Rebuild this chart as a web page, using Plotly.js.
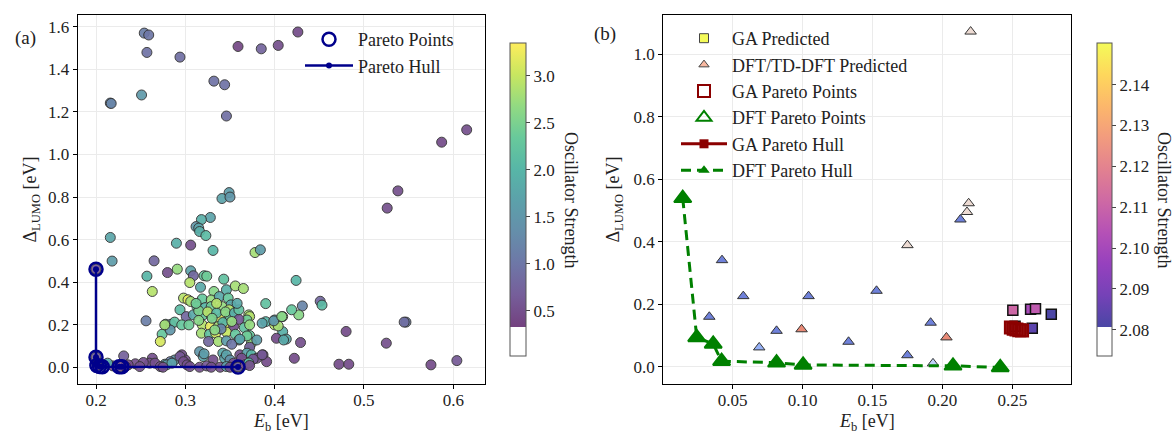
<!DOCTYPE html>
<html><head><meta charset="utf-8">
<script src="https://cdn.plot.ly/plotly-3.0.1.min.js"></script>
<style>html,body{margin:0;padding:0;background:#fff}#chart{width:1174px;height:433px}</style>
</head><body><div id="chart"></div>
<script>
// ---------- Panel (a): all candidates ----------
const aX = [0.216,0.217,0.251,0.254,0.259,0.257,0.294,0.332,0.344,0.346,0.359,0.385,0.404,0.426,0.587,0.615,0.538,0.526,
0.349,0.341,0.350,0.328,0.318,0.312,0.315,0.316,0.323,0.290,0.306,0.331,0.378,0.384,0.216,0.218,0.265,
0.424,0.451,0.453,0.431,0.427,0.419,0.409,0.400,0.409,0.413,0.429,0.422,0.472,0.483,0.480,0.525,0.547,0.545,0.575,0.604,0.400,0.404,0.402,0.410,
0.257,0.263,0.256,0.280,0.291,0.306,0.309,0.305,0.321,0.324,0.317,0.343,0.346,0.356,0.365,0.332,0.390,
0.298,0.303,0.306,0.319,0.329,0.338,0.348,0.351,0.313,0.322,0.329,0.341,0.349,0.294,0.301,0.309,0.320,0.329,0.344,0.339,0.350,0.371,0.372,0.369,0.390,0.386,0.399,0.408,
0.278,0.284,0.288,0.296,0.304,0.319,0.328,0.337,0.346,0.354,0.366,0.372,0.274,0.283,0.272,0.277,0.318,0.327,0.334,0.346,0.356,0.360,0.372,0.374,0.326,0.337,0.346,0.352,0.369,0.380,0.361,0.372,
0.315,0.325,0.335,0.345,0.355,0.330,0.360,0.342,0.352,0.315,0.360,0.335,0.358,0.312,0.340,0.333,
0.316,0.320,0.342,0.344,0.331,0.361,0.369,0.374,0.380,0.387,0.391,0.296,0.300,0.288,0.283,0.277,0.263,0.260,0.231,0.244,0.236,0.219,0.253,0.266,0.279,0.285,0.294,0.298,0.321,0.346,0.350,0.354,0.363,0.376,0.386,0.339,0.346,0.350,0.356,0.361,0.316,0.324,0.329,0.302,0.305,0.249,0.272,0.275,0.233,0.203,0.213,0.208,0.200,0.200,0.201,0.227,0.359,0.367,0.371,0.372];
const aY = [1.242,1.240,1.280,1.571,1.562,1.480,1.458,1.345,1.328,1.181,1.508,1.497,1.513,1.576,1.058,1.116,0.829,0.748,
0.821,0.793,0.800,0.704,0.694,0.661,0.654,0.638,0.619,0.583,0.574,0.549,0.539,0.552,0.610,0.499,0.500,
0.408,0.310,0.292,0.288,0.246,0.270,0.238,0.199,0.167,0.132,0.116,0.042,0.014,0.014,0.168,0.113,0.212,0.212,0.011,0.031,0.222,0.194,0.136,0.128,
0.428,0.356,0.218,0.445,0.461,0.453,0.430,0.398,0.430,0.428,0.376,0.414,0.364,0.382,0.370,0.356,0.299,
0.325,0.317,0.309,0.321,0.316,0.332,0.325,0.293,0.285,0.280,0.285,0.285,0.270,0.270,0.238,0.246,0.246,0.243,0.246,0.227,0.238,0.246,0.238,0.222,0.214,0.207,0.218,0.238,
0.202,0.202,0.212,0.199,0.199,0.199,0.191,0.191,0.199,0.191,0.186,0.199,0.155,0.175,0.121,0.199,0.160,0.155,0.160,0.165,0.155,0.128,0.149,0.113,0.121,0.121,0.124,0.108,0.147,0.128,0.132,0.094,
0.265,0.260,0.255,0.260,0.255,0.230,0.225,0.210,0.215,0.220,0.270,0.300,0.300,0.300,0.180,0.175,
0.073,0.050,0.066,0.042,0.034,0.058,0.066,0.058,0.042,0.058,0.026,0.058,0.034,0.034,0.026,0.014,0.042,0.019,0.053,0.016,0.011,0.006,0.022,0.019,0.011,0.019,0.050,0.026,0.063,0.058,0.034,0.019,0.042,0.038,0.058,0.000,0.003,0.000,0.000,0.006,0.000,0.006,0.000,0.011,0.003,0.003,0.003,0.000,0.003,0.022,0.019,0.010,0.461,0.047,0.008,0.003,0.001,0.012,0.020,0.008];
const aOsc = [1.3,1.2,1.55,1.1,1.0,0.95,0.9,0.95,0.95,0.9,0.4,0.75,0.5,0.45,0.45,0.5,0.5,0.5,
1.6,1.7,1.5,1.7,1.9,1.5,1.7,1.9,2.1,1.9,0.5,2.0,2.8,1.6,1.75,1.6,0.8,
2.0,0.8,2.1,1.2,2.6,2.3,2.7,2.9,1.9,1.8,0.5,0.45,0.45,0.45,0.45,0.5,1.1,0.9,0.45,0.6,1.9,2.8,0.45,1.8,
2.0,2.9,1.1,0.5,2.7,1.7,0.8,2.9,2.3,2.4,1.8,2.2,1.9,2.8,2.8,2.6,2.2,
2.9,3.2,2.8,2.3,2.7,1.8,2.3,1.8,2.3,2.0,2.4,2.7,2.9,2.1,0.8,1.8,2.3,2.8,3.3,3.2,2.2,2.8,2.9,2.4,2.0,1.7,1.5,2.6,
1.6,1.4,2.2,2.3,2.4,2.9,3.2,2.8,3.2,0.5,2.2,2.7,2.3,1.5,3.1,2.8,2.8,2.2,3.1,3.0,2.3,1.7,2.3,2.7,0.8,2.8,1.6,1.0,2.4,1.6,1.7,0.7,
2.5,2.9,2.1,2.6,1.9,2.5,0.6,2.0,2.7,2.6,2.2,2.9,1.8,2.4,1.2,2.6,
1.5,1.7,1.8,1.7,0.5,0.5,1.7,2.0,0.5,0.5,0.45,0.5,0.5,1.5,1.1,1.6,0.5,0.5,0.7,0.5,0.45,0.5,0.5,0.5,1.6,1.7,0.6,0.5,1.6,1.7,1.4,0.5,0.5,0.6,0.6,0.5,1.6,0.5,0.6,0.5,0.5,0.6,0.5,0.5,0.5,0.5,0.5,0.5,0.5,2.0,1.8,1.7,0.6,0.7,0.5,0.5,0.8,0.5,2.1,0.5];
const aParetoX = [0.200,0.200,0.201,0.204,0.207,0.226,0.229,0.359];
const aParetoY = [0.461,0.047,0.008,0.003,0.002,0.002,0.002,0.001];
const aHullX = [0.200,0.200,0.201,0.204,0.207,0.226,0.229,0.359];
const aHullY = [0.461,0.047,0.008,0.003,0.002,0.002,0.002,0.001];

// ---------- Panel (b) ----------
const gaX = [0.2504,0.2631,0.2666,0.2779,0.2643,0.2520];
const gaY = [0.181,0.184,0.186,0.168,0.123,0.130];
const gaOsc = [2.111,2.101,2.107,2.081,2.084,2.115];
const dftX = [0.0424,0.0576,0.0333,0.0690,0.0814,0.0993,0.1043,0.1329,0.1529,0.1750,0.1916,0.1750,0.1933,0.2029,0.2129,0.2176,0.2188,0.2202];
const dftY = [0.341,0.226,0.160,0.062,0.115,0.120,0.226,0.080,0.243,0.389,0.141,0.037,0.011,0.094,0.471,0.495,0.523,1.072];
const dftScore = [0.05,0.05,0.05,0.2,0.05,0.85,0.05,0.05,0.05,0.55,0.05,0.05,0.35,0.85,0.05,0.55,0.55,0.55];
const gaParetoX = [0.249,0.251,0.253,0.255,0.257];
const gaParetoY = [0.126,0.122,0.119,0.117,0.116];
const gaHullX = [0.249,0.251,0.253,0.255,0.257];
const gaHullY = [0.126,0.122,0.119,0.117,0.116];
const dftParetoX = [0.0143,0.0243,0.0361,0.0421,0.0814,0.1004,0.2076,0.2414];
const dftParetoY = [0.539,0.094,0.073,0.018,0.013,0.006,0.003,-0.002];
const dftHullX = [0.0143,0.0243,0.0361,0.0421,0.0814,0.1004,0.2076,0.2414];
const dftHullY = [0.539,0.094,0.073,0.018,0.013,0.006,0.003,-0.002];

// colour scales
function blend(hex, a){
  const r=parseInt(hex.slice(1,3),16), g=parseInt(hex.slice(3,5),16), b=parseInt(hex.slice(5,7),16);
  const f=v=>Math.round(a*v+(1-a)*255);
  return 'rgb('+f(r)+','+f(g)+','+f(b)+')';
}
const viridis=['#440154','#482878','#3e4a89','#31688e','#26828e','#1f9e89','#35b779','#6ece58','#b5de2b','#fde725'];
const plasma=['#0d0887','#47039f','#7301a8','#9c179e','#bd3786','#d8576b','#ed7953','#fb9f3a','#fdca26','#f0f921'];
const coolwarm=['#3b4cc0','#688aef','#99baff','#c9d8ef','#edd1c2','#f7a889','#e26952','#b40426'];
function cutScale(stops,cmin,cmax,cut,alpha){
  const f=(cut-cmin)/(cmax-cmin);
  const out=[[0,'rgb(255,255,255)'],[f,'rgb(255,255,255)']];
  stops.forEach((c,i)=>out.push([Math.min(1,f+1e-6+(1-f-1e-6)*i/(stops.length-1)),blend(c,alpha)]));
  return out;
}
function plainScale(stops,alpha){return stops.map((c,i)=>[i/(stops.length-1),blend(c,alpha)]);}

const FONT='Liberation Serif, Times New Roman, serif';
const NAVY='#00008b', DRED='#8b0000', GREEN='#008000';
const aCmin=0.017,aCmax=3.35,bCmin=2.0736,bCmax=2.1502;

const traces=[
 {x:aX,y:aY,type:'scatter',mode:'markers',xaxis:'x',yaxis:'y',showlegend:false,hoverinfo:'x+y',
  marker:{size:10,color:aOsc,cmin:aCmin,cmax:aCmax,colorscale:cutScale(viridis,aCmin,aCmax,0.33,0.75),opacity:0.92,
   line:{color:'#333',width:1},showscale:true,
   colorbar:{x:510/1174,xanchor:'left',xref:'paper',y:1-43/433,yanchor:'top',yref:'paper',len:312.7,lenmode:'pixels',
    thickness:16,thicknessmode:'pixels',xpad:0,ypad:0,outlinewidth:1,outlinecolor:'#555',ticks:'outside',ticklen:4,
    tickvals:[0.5,1.0,1.5,2.0,2.5,3.0],tickformat:'.1f',tickfont:{family:FONT,size:17,color:'#222'}}}},
 {x:aHullX,y:aHullY,type:'scatter',mode:'lines+markers',name:'Pareto Hull',xaxis:'x',yaxis:'y',legend:'legend',legendrank:2,
  line:{color:NAVY,width:2.5},marker:{color:NAVY,size:6}},
 {x:aParetoX,y:aParetoY,type:'scatter',mode:'markers',name:'Pareto Points',xaxis:'x',yaxis:'y',legend:'legend',legendrank:1,
  marker:{symbol:'circle-open',color:NAVY,size:13,line:{width:2.5}}},

 {x:gaX,y:gaY,type:'scatter',mode:'markers',xaxis:'x2',yaxis:'y2',showlegend:false,
  marker:{symbol:'square',size:10,color:gaOsc,cmin:bCmin,cmax:bCmax,colorscale:cutScale(plasma,bCmin,bCmax,2.0807,0.75),
   line:{color:'#111',width:1.5},showscale:true,
   colorbar:{x:1096.7/1174,xanchor:'left',xref:'paper',y:1-43/433,yanchor:'top',yref:'paper',len:312.7,lenmode:'pixels',
    thickness:15,thicknessmode:'pixels',xpad:0,ypad:0,outlinewidth:1,outlinecolor:'#555',ticks:'outside',ticklen:4,
    tickvals:[2.08,2.09,2.10,2.11,2.12,2.13,2.14],tickformat:'.2f',tickfont:{family:FONT,size:17,color:'#222'}}}},
 {x:dftX,y:dftY,type:'scatter',mode:'markers',xaxis:'x2',yaxis:'y2',showlegend:false,
  marker:{symbol:'triangle-up',size:10,color:dftScore,cmin:0,cmax:1,colorscale:plainScale(coolwarm,0.8),showscale:false,
   line:{color:'#333',width:1}}},
 {x:gaHullX,y:gaHullY,type:'scatter',mode:'lines+markers',xaxis:'x2',yaxis:'y2',showlegend:false,opacity:0.9,
  line:{color:DRED,width:3},marker:{symbol:'square',color:DRED,size:12}},
 {x:dftHullX,y:dftHullY,type:'scatter',mode:'lines+markers',xaxis:'x2',yaxis:'y2',showlegend:false,
  line:{color:GREEN,width:3,dash:'10px,6px'},marker:{symbol:'triangle-up',color:GREEN,size:15}},
 {x:gaParetoX,y:gaParetoY,type:'scatter',mode:'markers',xaxis:'x2',yaxis:'y2',showlegend:false,
  marker:{symbol:'square-open',color:DRED,size:12,line:{width:2}}},
 {x:dftParetoX,y:dftParetoY,type:'scatter',mode:'markers',xaxis:'x2',yaxis:'y2',showlegend:false,
  marker:{symbol:'triangle-up-open',color:GREEN,size:15,line:{width:2}}},

 // legend entries for panel (b)
 {x:[null],y:[null],type:'scatter',mode:'markers',name:'GA Predicted',xaxis:'x2',yaxis:'y2',legend:'legend2',legendrank:1,
  marker:{symbol:'square',size:9,color:blend('#f0f921',0.75),line:{color:'#444',width:1}}},
 {x:[null],y:[null],type:'scatter',mode:'markers',name:'DFT/TD-DFT Predicted',xaxis:'x2',yaxis:'y2',legend:'legend2',legendrank:2,
  marker:{symbol:'triangle-up',size:9,color:blend('#f7a889',0.8),line:{color:'#444',width:1}}},
 {x:[null],y:[null],type:'scatter',mode:'markers',name:'GA Pareto Points',xaxis:'x2',yaxis:'y2',legend:'legend2',legendrank:3,
  marker:{symbol:'square-open',size:12,color:DRED,line:{width:2}}},
 {x:[null],y:[null],type:'scatter',mode:'markers',name:'DFT Pareto Points',xaxis:'x2',yaxis:'y2',legend:'legend2',legendrank:4,
  marker:{symbol:'triangle-up-open',size:13,color:GREEN,line:{width:2}}},
 {x:[null],y:[null],type:'scatter',mode:'lines+markers',name:'GA Pareto Hull',xaxis:'x2',yaxis:'y2',legend:'legend2',legendrank:5,
  line:{color:DRED,width:3},marker:{symbol:'square',size:9,color:DRED}},
 {x:[null],y:[null],type:'scatter',mode:'lines+markers',name:'DFT Pareto Hull',xaxis:'x2',yaxis:'y2',legend:'legend2',legendrank:6,
  line:{color:GREEN,width:3,dash:'10px,6px'},marker:{symbol:'triangle-up',size:10,color:GREEN}}
];

const axBase={showline:true,linecolor:'#000',linewidth:1.2,mirror:true,ticks:'outside',ticklen:4,tickwidth:1,tickcolor:'#000',
  showgrid:true,gridcolor:'#ebebeb',gridwidth:1,zeroline:false,automargin:false,
  tickfont:{family:FONT,size:17,color:'#222'}};
const ttl={family:FONT,size:18,color:'#222'};
const yDom=[1-384/433,1-15/433];

const layout={
  width:1174,height:433,margin:{l:0,r:0,t:0,b:0},paper_bgcolor:'#fff',plot_bgcolor:'#fff',
  font:{family:FONT,size:17,color:'#222'},
  xaxis:Object.assign({},axBase,{domain:[77.7/1174,485/1174],range:[0.1795,0.6355],tick0:0,dtick:0.1,tickformat:'.1f',ticklabelstandoff:-4}),
  yaxis:Object.assign({},axBase,{domain:yDom,range:[-0.079,1.656],tick0:0,dtick:0.2,tickformat:'.1f',
    title:{text:'Δ<sub>LUMO</sub> [eV]',font:ttl,standoff:6}}),
  xaxis2:Object.assign({},axBase,{anchor:'y2',domain:[663.3/1174,1071/1174],range:[0.0004,0.292],tick0:0,dtick:0.05,tickformat:'.2f',ticklabelstandoff:-4}),
  yaxis2:Object.assign({},axBase,{anchor:'x2',domain:yDom,range:[-0.055,1.125],tick0:0,dtick:0.2,tickformat:'.1f',
    title:{text:'Δ<sub>LUMO</sub> [eV]',font:ttl,standoff:9}}),
  legend:{x:300/1174,y:1-21/433,xanchor:'left',yanchor:'top',bgcolor:'rgba(0,0,0,0)',font:{family:FONT,size:18,color:'#222'},
    itemwidth:48,traceorder:'normal'},
  legend2:{x:676/1174,y:1-20/433,xanchor:'left',yanchor:'top',bgcolor:'rgba(0,0,0,0)',font:{family:FONT,size:18,color:'#222'},
    itemwidth:46,traceorder:'normal'},
  annotations:[
    {text:'(a)',x:25/1174,y:1-38/433,xref:'paper',yref:'paper',xanchor:'center',yanchor:'middle',showarrow:false,font:{family:FONT,size:19,color:'#222'}},
    {text:'(b)',x:605/1174,y:1-34/433,xref:'paper',yref:'paper',xanchor:'center',yanchor:'middle',showarrow:false,font:{family:FONT,size:19,color:'#222'}},
    {text:'<i>E</i><sub>b</sub> [eV]',x:281/1174,y:1-422/433,xref:'paper',yref:'paper',xanchor:'center',yanchor:'middle',showarrow:false,font:ttl},
    {text:'<i>E</i><sub>b</sub> [eV]',x:867/1174,y:1-422/433,xref:'paper',yref:'paper',xanchor:'center',yanchor:'middle',showarrow:false,font:ttl},
    {text:'Oscillator Strength',x:571/1174,y:1-200/433,xref:'paper',yref:'paper',xanchor:'center',yanchor:'middle',showarrow:false,textangle:90,font:ttl},
    {text:'Oscillator Strength',x:1164/1174,y:1-200/433,xref:'paper',yref:'paper',xanchor:'center',yanchor:'middle',showarrow:false,textangle:90,font:ttl}
  ]
};
Plotly.newPlot('chart',traces,layout,{displayModeBar:false,responsive:false});
</script></body></html>
